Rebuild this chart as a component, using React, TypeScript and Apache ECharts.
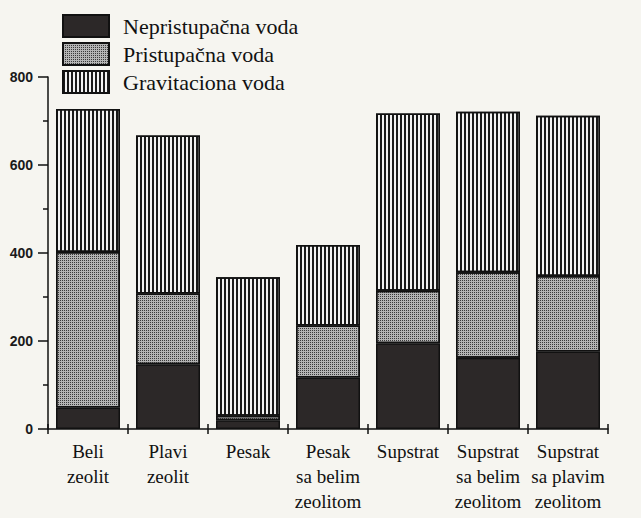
import React, { useEffect, useRef } from 'react';
import * as echarts from 'echarts';

const categories = [
  'Beli\nzeolit',
  'Plavi\nzeolit',
  'Pesak',
  'Pesak\nsa belim\nzeolitom',
  'Supstrat',
  'Supstrat\nsa belim\nzeolitom',
  'Supstrat\nsa plavim\nzeolitom',
];
const seriesNames = ['Nepristupačna voda', 'Pristupačna voda', 'Gravitaciona voda'];
const nepristupacna = [49, 147, 20, 117, 195, 162, 176];
const pristupacna = [353, 161, 10, 118, 119, 194, 172];
const gravitaciona = [325, 359, 315, 183, 403, 365, 364];
const yMin = 0;
const yMax = 800;
const yInterval = 200;

const SERIF = '"Liberation Serif", "Times New Roman", serif';
const SANS = '"Liberation Sans", Arial, sans-serif';

export default function App() {
  const ref = useRef<HTMLDivElement>(null);
  useEffect(() => {
    if (!ref.current) return;
    const chart = echarts.init(ref.current, null, { renderer: 'svg' });
    const border = { borderColor: '#111', borderWidth: 1.5 };
    chart.setOption({
      animation: false,
      backgroundColor: '#f6f5f0',
      grid: { left: 48, right: 33, top: 77, bottom: 89, containLabel: false },
      legend: {
        orient: 'vertical',
        left: 57,
        top: 9,
        itemWidth: 46,
        itemHeight: 22,
        itemGap: 4,
        icon: 'rect',
        textStyle: { fontFamily: SERIF, fontSize: 22, color: '#111', padding: [0, 0, 0, 9] },
        data: seriesNames,
      },
      xAxis: [
        {
          type: 'category',
          data: categories,
          position: 'bottom',
          axisLine: { lineStyle: { color: '#111', width: 1.5 } },
          axisTick: { show: true, length: 5, inside: false, lineStyle: { color: '#111', width: 1.5 } },
          axisLabel: {
            interval: 0,
            fontFamily: SERIF,
            fontSize: 19,
            color: '#111',
            lineHeight: 25,
            margin: 10,
            verticalAlign: 'top',
          },
        },
        {
          type: 'category',
          data: categories,
          position: 'bottom',
          axisLine: { show: false },
          axisTick: { show: true, length: 5, inside: true, lineStyle: { color: '#111', width: 1.5 } },
          axisLabel: { show: false },
        },
      ],
      yAxis: {
        type: 'value',
        min: yMin,
        max: yMax,
        interval: yInterval,
        splitLine: { show: false },
        axisLine: { show: true, lineStyle: { color: '#111', width: 1.5 } },
        axisTick: { show: true, length: 10, lineStyle: { color: '#111', width: 1.5 } },
        minorTick: { show: true, splitNumber: 2, length: 5, lineStyle: { color: '#111', width: 1.5 } },
        axisLabel: { fontFamily: SANS, fontSize: 14, fontWeight: 'bold', color: '#1a1a1a', margin: 15 },
      },
      series: [
        {
          name: seriesNames[0],
          type: 'bar',
          stack: 'voda',
          barWidth: 64,
          data: nepristupacna,
          itemStyle: { color: '#2c2828', ...border },
        },
        {
          name: seriesNames[1],
          type: 'bar',
          stack: 'voda',
          barWidth: 64,
          data: pristupacna,
          itemStyle: {
            color: '#b4b4b4',
            ...border,
            decal: {
              symbol: 'rect',
              symbolSize: 1,
              color: '#3a3a3a',
              dashArrayX: [1, 1],
              dashArrayY: [1, 1],
            },
          },
        },
        {
          name: seriesNames[2],
          type: 'bar',
          stack: 'voda',
          barWidth: 64,
          data: gravitaciona,
          itemStyle: {
            color: '#f2f2f2',
            ...border,
            decal: {
              symbol: 'rect',
              symbolSize: 1,
              color: '#1a1a1a',
              dashArrayX: [2, 2],
              dashArrayY: [10, 0],
            },
          },
        },
      ],
    });
    return () => chart.dispose();
  }, []);
  return (
    <div
      ref={ref}
      style={{ position: 'absolute', left: 0, top: 0, width: 641, height: 518 }}
    />
  );
}
